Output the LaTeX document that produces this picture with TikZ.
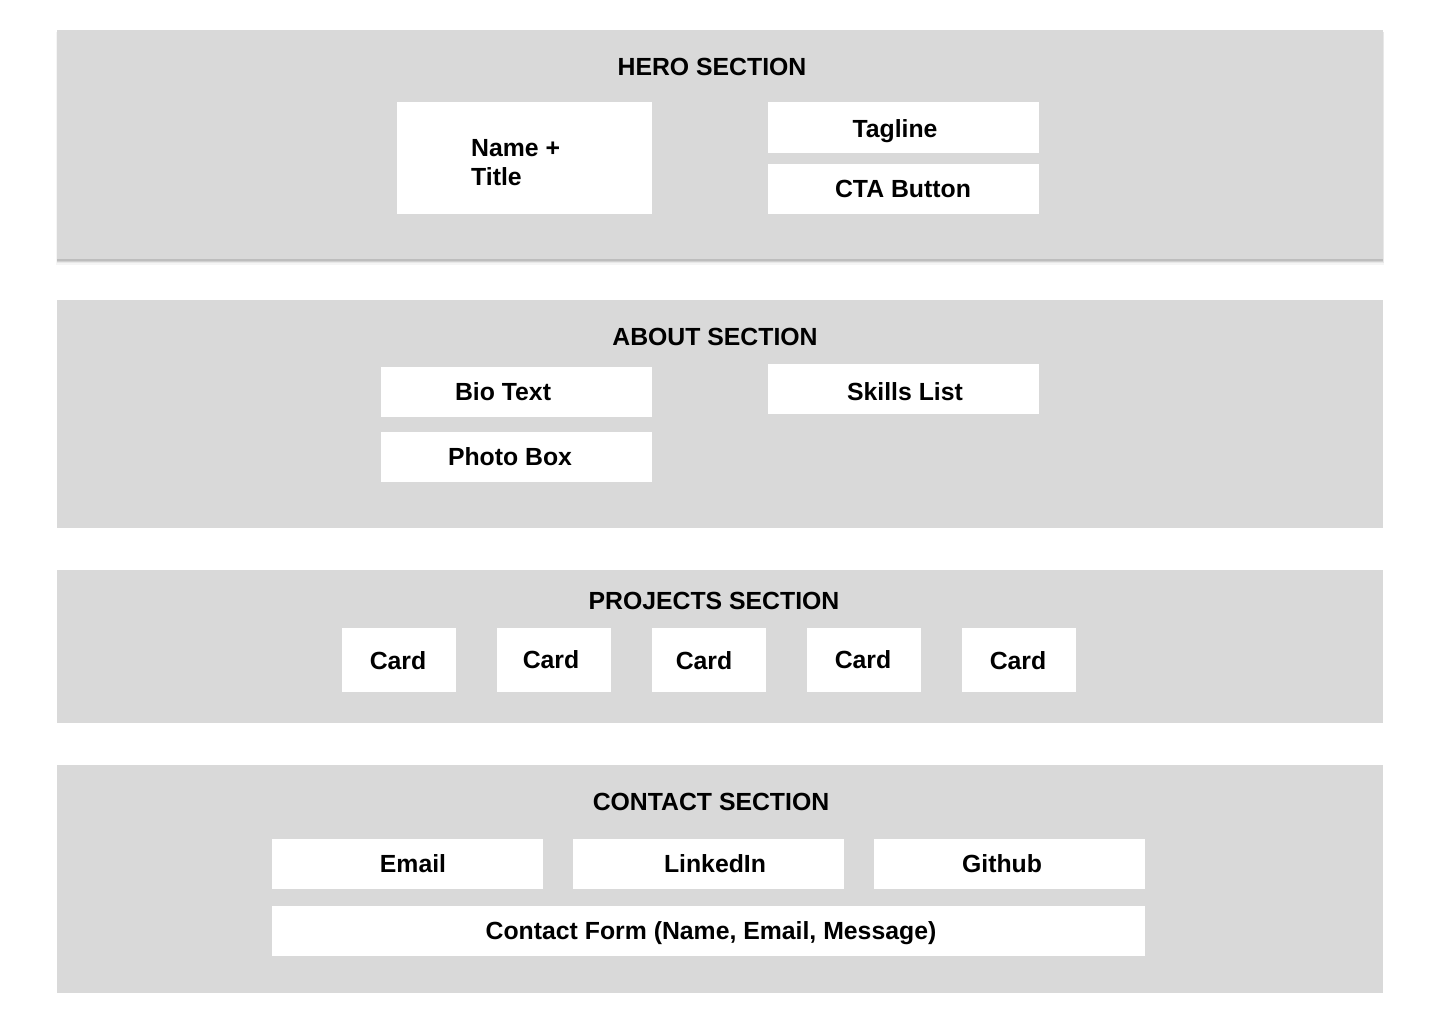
\documentclass[tikz,border=0pt]{standalone}
\usepackage{fontspec}
\setmainfont{Liberation Sans}
\begin{document}
\begin{tikzpicture}[x=1pt,y=-1pt,
  sect/.style={fill=secgray, draw=none, inner sep=0pt, minimum width=1326pt},
  wbox/.style={fill=white, draw=none, inner sep=0pt},
  lbl/.style={font=\bfseries\fontsize{24.8}{29}\selectfont, inner sep=0pt, text=black,
    text height=17.8pt, text depth=0pt},
]
\definecolor{secgray}{HTML}{D9D9D9}
\useasboundingbox (0,0) rectangle (1440,1024);
\fill[white] (0,0) rectangle (1440,1024);
% shadow of hero
\fill[black!4] (56,32) rectangle (1384,265);
\fill[black!9] (56.5,32) rectangle (1383.5,263);
\fill[black!18] (57,30) rectangle (1383,262);
\fill[black!26] (57,30) rectangle (1383,261);
% sections
\node[sect, minimum height=229pt] (hero) at (720,144.5) {};
\node[sect, minimum height=228pt] (about) at (720,414) {};
\node[sect, minimum height=153pt] (proj) at (720,646.5) {};
\node[sect, minimum height=228pt] (contact) at (720,879) {};
% titles
\node[lbl] (heroT) at (712,67) {HERO SECTION};
\node[lbl] (aboutT) at (715,337) {ABOUT SECTION};
\node[lbl] (projT) at (714,601) {PROJECTS SECTION};
\node[lbl] (contactT) at (711,802) {CONTACT SECTION};
% hero boxes
\node[wbox, minimum width=255pt, minimum height=112pt] (name) at (524.5,158) {};
\node[lbl, align=left, anchor=west] (nameT) at (471,176.5) {Name +\\Title};
\node[wbox, minimum width=271pt, minimum height=51pt] (tag) at (903.5,127.5) {};
\node[lbl] (tagT) at (895,129) {Tagline};
\node[wbox, minimum width=271pt, minimum height=50pt] (cta) at (903.5,189) {};
\node[lbl] (ctaT) at (903,189) {CTA Button};
% about boxes
\node[wbox, minimum width=271pt, minimum height=50pt] (bio) at (516.5,392) {};
\node[lbl] (bioT) at (503,392) {Bio Text};
\node[wbox, minimum width=271pt, minimum height=50pt] (photo) at (516.5,457) {};
\node[lbl] (photoT) at (510,457) {Photo Box};
\node[wbox, minimum width=271pt, minimum height=50pt] (skills) at (903.5,389) {};
\node[lbl] (skillsT) at (905,392) {Skills List};
% project cards
\node[wbox, minimum width=114pt, minimum height=64pt] (c1) at (399,660) {};
\node[lbl] (c1T) at (398,661) {Card};
\node[wbox, minimum width=114pt, minimum height=64pt] (c2) at (554,660) {};
\node[lbl] (c2T) at (551,660) {Card};
\node[wbox, minimum width=114pt, minimum height=64pt] (c3) at (709,660) {};
\node[lbl] (c3T) at (704,661) {Card};
\node[wbox, minimum width=114pt, minimum height=64pt] (c4) at (864,660) {};
\node[lbl] (c4T) at (863,660) {Card};
\node[wbox, minimum width=114pt, minimum height=64pt] (c5) at (1019,660) {};
\node[lbl] (c5T) at (1018,661) {Card};
% contact boxes
\node[wbox, minimum width=271pt, minimum height=50pt] (email) at (407.5,864) {};
\node[lbl] (emailT) at (413,864) {Email};
\node[wbox, minimum width=271pt, minimum height=50pt] (linked) at (708.5,864) {};
\node[lbl] (linkedT) at (715,864) {LinkedIn};
\node[wbox, minimum width=271pt, minimum height=50pt] (git) at (1009.5,864) {};
\node[lbl] (gitT) at (1002,864) {Github};
\node[wbox, minimum width=873pt, minimum height=50pt] (form) at (708.5,931) {};
\node[lbl] (formT) at (711,931) {Contact Form (Name, Email, Message)};
\end{tikzpicture}
\end{document}
